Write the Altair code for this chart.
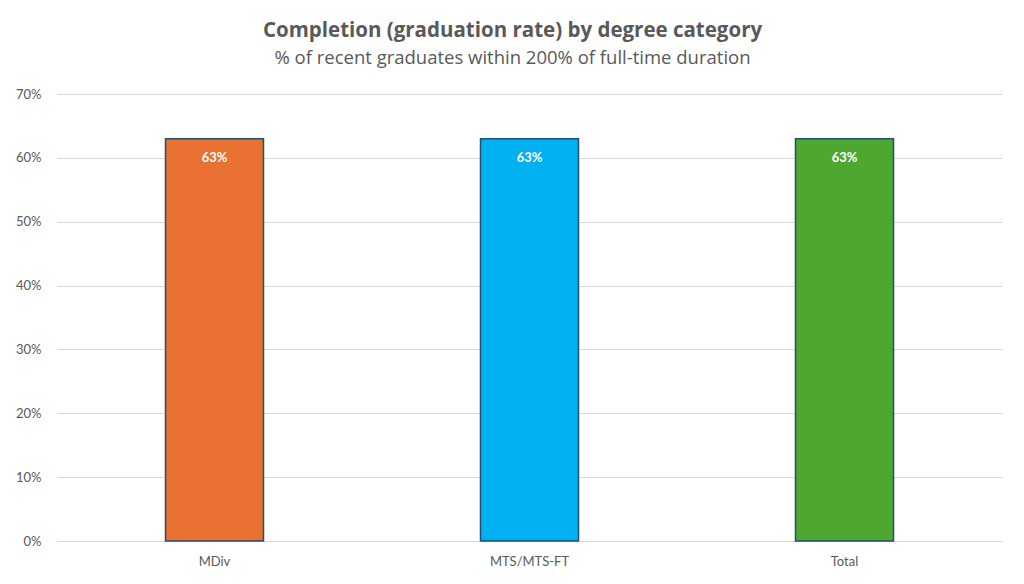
import altair as alt
import pandas as pd

categories = ["MDiv", "MTS/MTS-FT", "Total"]
values = [63, 63, 63]
labels = ["63%", "63%", "63%"]
colors = ["#E97132", "#00B0F0", "#4EA72E"]

df = pd.DataFrame({"cat": categories, "val": values, "lab": labels})

FONT = "Lato"
TFONT = "Open Sans"

x = alt.X("cat:N", sort=categories, title=None,
          scale=alt.Scale(paddingInner=0, paddingOuter=0),
          axis=alt.Axis(labelAngle=0, labelFontSize=13, labelColor="#595959",
                        labelPadding=14, ticks=False, domain=True,
                        domainColor="#D9D9D9", domainWidth=1,
                        labelFont=FONT))
y = alt.Y("val:Q", title=None,
          scale=alt.Scale(domain=[0, 70], nice=False),
          axis=alt.Axis(values=[0, 10, 20, 30, 40, 50, 60, 70],
                        labelExpr="datum.value + '%'",
                        labelFontSize=13, labelColor="#595959",
                        labelPadding=16, ticks=False, domain=False,
                        gridColor="#D9D9D9", gridWidth=1,
                        labelFont=FONT))

bars = alt.Chart(df).mark_bar(width=98, stroke="#1F4E79", strokeWidth=1.5).encode(
    x=x, y=y,
    color=alt.Color("cat:N", scale=alt.Scale(domain=categories, range=colors), legend=None),
)

text = alt.Chart(df).mark_text(color="white", fontWeight="bold", fontSize=13,
                               baseline="top", dy=13, font=FONT).encode(
    x=alt.X("cat:N", sort=categories), y="val:Q", text="lab:N"
)

chart = (bars + text).properties(
    width=945, height=447,
    autosize=alt.AutoSizeParams(type="none"),
    padding={"left": 49, "top": 86, "right": 14, "bottom": 35},
    title=alt.TitleParams(
        text="Completion (graduation rate) by degree category",
        subtitle="% of recent graduates within 200% of full-time duration",
        fontSize=20.5, fontWeight="bold", color="#595959",
        font=TFONT, subtitleFont=TFONT,
        subtitleFontSize=18.5, subtitleColor="#595959", subtitlePadding=7,
        anchor="middle", dx=-17, offset=21,
    ),
).configure(background="white").configure_view(strokeWidth=0, stroke="transparent")

chart.save("out.html", embed_options={"renderer": "svg", "actions": False})
